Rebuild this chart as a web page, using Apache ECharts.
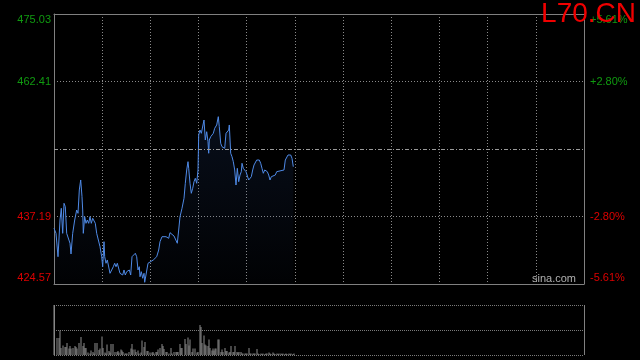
<!DOCTYPE html>
<html>
<head>
<meta charset="utf-8">
<script src="https://cdn.jsdelivr.net/npm/echarts@6/dist/echarts.min.js"></script>
<style>
html,body{margin:0;padding:0;background:#000;}
#c{width:640px;height:360px;}
</style>
</head>
<body>
<div id="c"></div>
<script>
// ---- data ----
var symbolName = 'L70.CN';
var prevClose = 449.80;
var priceMin = 424.57;
var priceMax = 475.03;
var leftLabels = ['424.57', '437.19', '', '462.41', '475.03'];
var rightLabels = ['-5.61%', '-2.80%', '', '+2.80%', '+5.61%'];
var sessionLength = 530; // time slots across the full session axis
var priceTime = [0,2,4,6,7.3,8.7,10,11.3,12.7,14.3,
  16,17,18.7,20.7,22.7,24,25.3,26.7,28,28.7,
  29.3,30.7,32,33.3,34.7,36,37.3,38.7,40,41.3,
  42.7,44.7,46,47.7,48.7,50,50.7,52,53.3,54.7,
  56,58,59.3,60.7,62,63.3,64.7,66,67.3,68.7,
  70,71.3,72.7,74,75.3,76.7,78,79.3,81.3,82.7,
  84,85.3,86,87.3,88.7,90,90.7,92.7,94,96,
  99.3,102.7,104.7,106,108,110,112,113.3,114.7,116,
  118,120,122,123.3,124.7,126,128,130,131.3,132.7,
  134,134.7,136,137.3,138.7,140,141.3,142.7,144,144.7,
  146,147.3,148.7,150,151.3,152.7,154,154.7,155.3,156.7,
  158,159.3,160.7,162.7,164.3,165.3,166.7,168,169.3,170.7,
  172,173.3,174.7,175.3,176.7,178,179.3,180.7,182,183.3,
  184.7,186,187.3,188,189.3,190.7,192,193.3,194.7,196,
  197.3,198.7,200,201.3,202.7,205.3,206.7,208,209.3,210.7,
  212,213.3,214.7,216,217.3,218.7,221.3,222.7,224,230,
  231.3,232.7,234,235.3,236.7,238,239.3];
var prices = [434.98,434.04,429.67,436.53,438.72,434.04,439.65,439.02,434.04,433.73,
  432.18,430.18,434.04,436.53,438.40,437.78,442.14,444.01,440.89,438.40,
  434.04,437.15,435.91,436.53,435.91,437.15,435.91,436.85,436.53,435.91,
  434.04,433.73,431.54,429.67,427.80,432.48,429.67,428.44,429.06,429.06,
  426.57,426.87,427.80,428.44,427.80,428.44,428.74,426.57,426.87,426.25,
  427.19,426.25,426.87,426.57,427.19,426.25,429.67,429.99,430.31,429.67,
  427.19,427.80,425.93,426.87,425.64,426.57,424.89,424.89,428.44,428.74,
  429.06,429.67,430.92,432.48,433.41,433.73,433.41,433.73,433.11,434.16,
  434.04,433.54,433.41,432.18,434.66,437.15,438.72,440.59,443.39,445.88,
  447.43,446.19,443.39,441.52,442.46,443.69,444.32,443.39,445.88,452.42,
  453.35,452.73,453.03,455.22,451.48,453.03,451.16,449.00,451.48,452.10,
  452.42,452.73,453.67,454.29,455.84,453.97,450.87,450.23,450.23,449.93,
  452.73,452.73,453.35,454.29,449.00,448.36,447.43,445.88,443.07,446.19,
  443.69,444.94,445.56,447.13,446.19,445.88,445.56,445.56,444.01,444.01,
  444.62,445.88,446.81,447.13,447.74,447.74,447.13,446.19,445.26,445.88,
  445.88,445.56,444.94,444.01,444.62,444.94,444.94,445.56,445.88,445.88,
  447.74,448.06,448.68,449.00,448.68,448.06,446.49];
var volumeTime = [0,3,5,6,7,9,11,12,13,15,16,17,19,21,22,23,25,27,29,30,
  31,32,34,36,37,39,40,41,43,45,46,48,49,51,52,53,55,56,57,59,
  61,63,64,65,67,68,69,71,72,73,75,77,78,79,81,82,84,85,87,88,
  90,91,93,94,96,98,99,100,102,103,104,106,108,109,110,112,113,115,117,118,
  120,122,123,124,126,127,128,131,132,134,135,136,138,139,141,143,144,146,147,148,
  150,151,152,154,155,156,158,159,160,161,162,164,165,167,168,169,171,172,173,175,
  176,177,179,180,181,183,184,185,187,188,189,191,192,193,195,196,197,199,200,201,
  203,204,205,207,208,209,211,212,213,215,216,217,219,220,221,223,224,225,227,228,
  229,231,232,233,235,236,237,239,240];
var volumes = [100,34,34,49,14,19,16,16,24,13,18,13,14,18,16,13,24,36,18,24,
  14,14,5,3,9,6,3,24,24,10,13,37,14,5,3,21,8,5,22,22,
  6,6,8,5,11,9,6,3,3,3,6,13,22,11,11,6,9,3,5,29,
  16,26,8,8,5,5,6,3,6,6,11,14,22,18,12,6,6,3,14,3,
  6,6,6,6,22,14,14,32,22,35,19,31,6,13,13,5,6,60,56,24,
  39,21,19,18,31,14,9,13,9,13,13,31,31,6,11,6,14,8,8,5,
  6,18,6,6,18,6,5,6,6,3,3,3,3,3,14,3,3,3,3,3,
  12,3,2,3,2,3,2,3,3,5,3,2,5,3,2,3,2,3,3,2,
  3,2,3,2,3,2,3,2,3];

// ---- chart ----
var GREEN = '#109a10', RED = '#dd0000', FONT = 'Liberation Sans, Arial, sans-serif';
var step = (priceMax - priceMin) / 4;
var linePts = priceTime.map(function (t, i) { return [t, prices[i]]; });
var volPts = volumeTime.map(function (t, i) { return [t, volumes[i]]; });

function labelRich() {
  return {
    gt: {color: GREEN, fontSize: 11, fontFamily: FONT, padding: [12, 0, 0, 0]},
    g: {color: GREEN, fontSize: 11, fontFamily: FONT},
    r: {color: RED, fontSize: 11, fontFamily: FONT},
    rb: {color: RED, fontSize: 11, fontFamily: FONT, padding: [0, 0, 12, 0]}
  };
}
function styled(arr) {
  return function (v, i) {
    var s = arr[i];
    if (!s) return '';
    var key = i === 4 ? 'gt' : i === 3 ? 'g' : i === 1 ? 'r' : 'rb';
    return '{' + key + '|' + s + '}';
  };
}

var chart = echarts.init(document.getElementById('c'), null, {renderer: 'canvas'});
chart.setOption({
  backgroundColor: '#000',
  animation: false,
  grid: [
    {left: 54, top: 14, width: 530, height: 270},
    {left: 54, top: 305, width: 530, height: 50}
  ],
  xAxis: [
    {type: 'value', gridIndex: 0, min: 0, max: sessionLength, interval: sessionLength / 11,
      axisLine: {show: true, onZero: false, lineStyle: {color: '#808080'}},
      axisTick: {show: false}, axisLabel: {show: false},
      splitLine: {show: true, lineStyle: {color: '#8a8a8a', type: [1, 2], width: 1}}},
    {type: 'value', gridIndex: 1, min: 0, max: sessionLength, interval: sessionLength,
      axisLine: {show: false}, axisTick: {show: false}, axisLabel: {show: false},
      splitLine: {show: true, lineStyle: {color: '#808080', type: 'solid'}}},
    {type: 'value', gridIndex: 0, position: 'top', min: 0, max: sessionLength,
      axisLine: {show: true, onZero: false, lineStyle: {color: '#808080'}},
      axisTick: {show: false}, axisLabel: {show: false}, splitLine: {show: false}}
  ],
  yAxis: [
    {type: 'value', gridIndex: 0, position: 'left', min: priceMin, max: priceMax, interval: step,
      axisLine: {show: true, onZero: false, lineStyle: {color: '#808080'}},
      axisTick: {show: false},
      axisLabel: {margin: 3, formatter: styled(leftLabels), rich: labelRich()},
      splitLine: {show: true, lineStyle: {color: ['#8a8a8a', '#8a8a8a', 'rgba(0,0,0,0)', '#8a8a8a', '#8a8a8a'], type: [1, 2]}}},
    {type: 'value', gridIndex: 0, position: 'right', min: priceMin, max: priceMax, interval: step,
      axisLine: {show: true, onZero: false, lineStyle: {color: '#808080'}},
      axisTick: {show: false},
      axisLabel: {margin: 6, formatter: styled(rightLabels), rich: labelRich()},
      splitLine: {show: false}},
    {type: 'value', gridIndex: 1, min: 0, max: 100, interval: 50,
      axisLine: {show: false}, axisTick: {show: false}, axisLabel: {show: false},
      splitLine: {show: true, lineStyle: {color: '#7a7a7a', type: [1, 1]}}}
  ],
  series: [
    {type: 'line', xAxisIndex: 0, yAxisIndex: 0, data: linePts, symbol: 'none',
      lineStyle: {color: '#4f8ae6', width: 1},
      areaStyle: {origin: 'start', color: new echarts.graphic.LinearGradient(0, 0, 0, 1, [
        {offset: 0, color: 'rgba(50,90,170,0.22)'},
        {offset: 1, color: 'rgba(50,90,170,0.03)'}
      ])},
      markLine: {silent: true, symbol: 'none', label: {show: false},
        lineStyle: {color: '#9a9a9a', type: [4, 2, 1, 2], width: 1},
        data: [{yAxis: prevClose}]}
    },
    {type: 'bar', xAxisIndex: 1, yAxisIndex: 2, data: volPts, barWidth: 1,
      itemStyle: {color: '#8c8c8c'}}
  ],
  graphic: [
    {type: 'text', right: 4, top: 0, z: 100,
      style: {text: symbolName, fill: '#f00000', font: '28px Liberation Sans, Arial, sans-serif'}},
    {type: 'text', left: 532, top: 273, z: 100,
      style: {text: 'sina.com', fill: '#b0b0b0', font: '11px Liberation Sans, Arial, sans-serif'}}
  ]
});
</script>
</body>
</html>
